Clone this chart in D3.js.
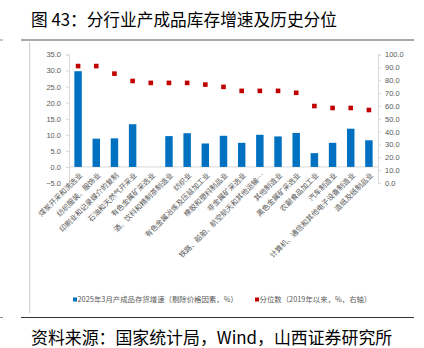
<!DOCTYPE html>
<html><head><meta charset="utf-8">
<script src="https://cdn.jsdelivr.net/npm/d3@7"></script>
<style>
html,body{margin:0;padding:0;background:#fff;}
svg{display:block;font-family:"Noto Sans CJK SC","Noto Sans",sans-serif;}
</style></head>
<body>
<svg id="c" width="424" height="348"></svg>
<script>
const categories = ["煤炭开采和洗选业","纺织服装、服饰业","印刷业和记录媒介的复制","石油和天然气开采业","有色金属矿采选业","酒、饮料和精制茶制造业","纺织业","有色金属冶炼及压延加工业","橡胶和塑料制品业","非金属矿采选业","铁路、船舶、航空航天和其他运输…","其他制造业","黑色金属矿采选业","农副食品加工业","汽车制造业","计算机、通信和其他电子设备制造业","造纸及纸制品业"];
const growth = [29.8, 8.8, 8.9, 13.3, null, 9.6, 10.5, 7.3, 9.7, 7.5, 10.0, 9.5, 10.6, 4.3, 7.5, 11.9, 8.3];
const percentile = [91.0, 91.0, 85.1, 79.4, 77.9, 77.9, 77.9, 76.6, 74.8, 71.7, 71.7, 71.7, 70.2, 59.9, 58.4, 58.4, 56.8];
const leftTicks = [-5,0,5,10,15,20,25,30,35];
const rightTicks = [0,10,20,30,40,50,60,70,80,90,100];
const title = "图 43：分行业产成品库存增速及历史分位";
const source = "资料来源：国家统计局，Wind，山西证券研究所";
const legendLabels = ["2025年3月产成品存货增速（剔除价格因素，%）","分位数（2019年以来，%，右轴）"];

const svg = d3.select("#c");
const gray = "#595959";

// frame
svg.append("text").attr("x",31).attr("y",26).attr("font-size",16.7).attr("fill","#000").text(title);
svg.append("line").attr("x1",21).attr("x2",414).attr("y1",40).attr("y2",40).attr("stroke","#8c8c8c").attr("stroke-width",1.6);
svg.append("line").attr("x1",0).attr("x2",3).attr("y1",40).attr("y2",40).attr("stroke","#8c8c8c");
svg.append("line").attr("x1",29.7).attr("x2",29.7).attr("y1",42).attr("y2",313).attr("stroke","#c8c8c8");
svg.append("line").attr("x1",21).attr("x2",414).attr("y1",317.5).attr("y2",317.5).attr("stroke","#333").attr("stroke-width",1.2);
svg.append("line").attr("x1",0).attr("x2",3).attr("y1",317.5).attr("y2",317.5).attr("stroke","#8c8c8c");
svg.append("text").attr("x",31).attr("y",344).attr("font-size",16.9).attr("fill","#000").text(source);

const x = d3.scaleBand().domain(categories).range([69,378]).paddingInner(0.59).paddingOuter(0.295);
const yL = d3.scaleLinear().domain([-5,35]).range([183,54.5]);
const yR = d3.scaleLinear().domain([0,100]).range([183,54.5]);

// axes
const axL = svg.append("g").attr("transform","translate(69,0)")
  .call(d3.axisLeft(yL).tickValues(leftTicks).tickSize(3).tickPadding(5).tickFormat(d3.format(".1f")));
const axR = svg.append("g").attr("transform","translate(378,0)")
  .call(d3.axisRight(yR).tickValues(rightTicks).tickSize(3).tickPadding(4).tickFormat(d3.format(".1f")));
[axL,axR].forEach(a=>{
  a.select(".domain").attr("stroke","#d9d9d9");
  a.selectAll(".tick line").attr("stroke","#d9d9d9");
  a.selectAll("text").attr("fill",gray).attr("font-size",7.5).attr("font-family","Liberation Sans Narrow, Arial Narrow, Liberation Sans, sans-serif");
});

// zero line
svg.append("line").attr("x1",69).attr("x2",378).attr("y1",yL(0)).attr("y2",yL(0)).attr("stroke","#d9d9d9");

// bars
svg.append("g").selectAll("rect").data(categories.map((c,i)=>({c,v:growth[i]})).filter(d=>d.v!=null))
  .join("rect")
  .attr("x",d=>x(d.c)).attr("width",x.bandwidth())
  .attr("y",d=>yL(Math.max(0,d.v))).attr("height",d=>Math.abs(yL(d.v)-yL(0)))
  .attr("fill","#0070c0");

// percentile squares
const s = 4.6;
svg.append("g").selectAll("rect").data(categories.map((c,i)=>({c,v:percentile[i]})))
  .join("rect")
  .attr("x",d=>x(d.c)+x.bandwidth()/2-s/2).attr("y",d=>yR(d.v)-s/2)
  .attr("width",s).attr("height",s).attr("fill","#c00000");

// category labels
svg.append("g").selectAll("text").data(categories).join("text")
  .attr("transform",d=>`translate(${x(d)+x.bandwidth()/2+3},${174}) rotate(-45)`)
  .attr("text-anchor","end").attr("dy","0.35em")
  .attr("font-size",7.3).attr("fill",gray).text(d=>d);

// legend
const lg = svg.append("g");
lg.append("rect").attr("x",73).attr("y",297.5).attr("width",4).attr("height",4).attr("fill","#0070c0");
lg.append("text").attr("x",77.5).attr("y",302).attr("font-size",7.4).attr("fill",gray).text(legendLabels[0]);
lg.append("rect").attr("x",255).attr("y",297.5).attr("width",4).attr("height",4).attr("fill","#c00000");
lg.append("text").attr("x",259.5).attr("y",302).attr("font-size",7.4).attr("fill",gray).text(legendLabels[1]);
</script>
</body></html>
